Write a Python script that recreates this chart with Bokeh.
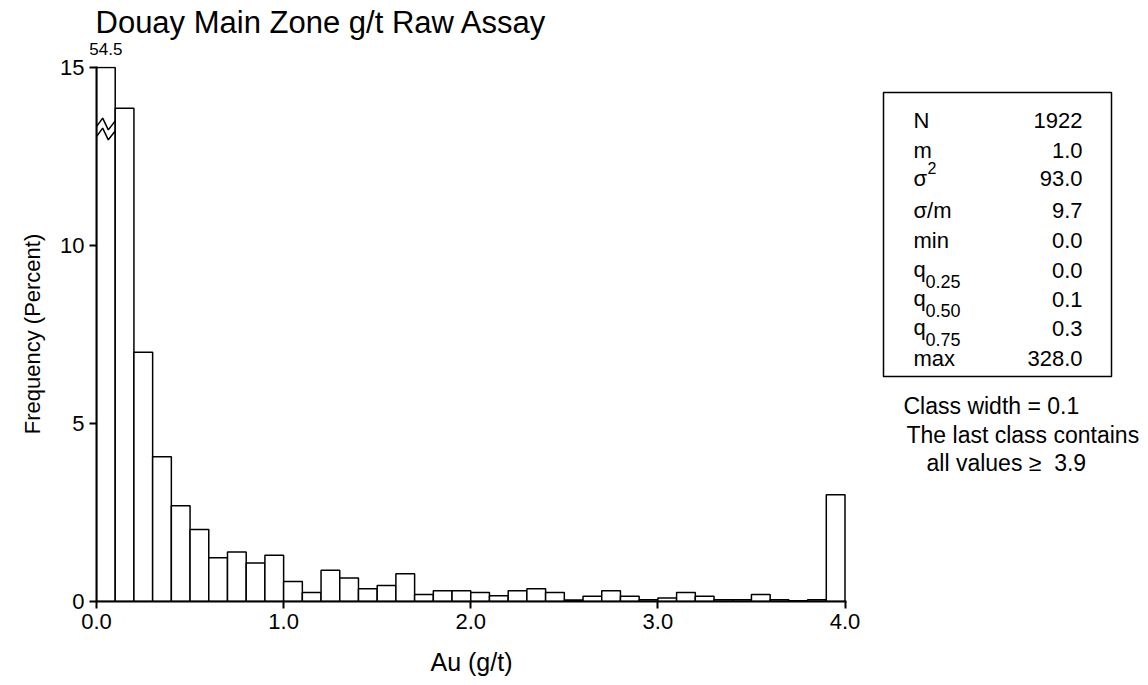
import numpy as np
from bokeh.plotting import figure
from bokeh.layouts import row
from bokeh.models import (Range1d, FixedTicker, PrintfTickFormatter, Title, ColumnDataSource,
                          LinearAxis)
from bokeh.core.properties import value
from bokeh.embed import file_html
from bokeh.resources import INLINE

# ---------------- data ----------------
title_text = "Douay Main Zone g/t Raw Assay"
x_label = "Au (g/t)"
y_label = "Frequency (Percent)"
bin_start = 0.0
bin_width = 0.1
freq = [54.5, 13.86, 7.0, 4.07, 2.69, 2.02, 1.23, 1.39, 1.08, 1.30,
        0.56, 0.25, 0.88, 0.66, 0.36, 0.45, 0.78, 0.20, 0.30, 0.30,
        0.25, 0.16, 0.30, 0.36, 0.25, 0.04, 0.15, 0.30, 0.15, 0.05,
        0.10, 0.25, 0.15, 0.05, 0.05, 0.20, 0.05, 0.02, 0.05, 3.0]
y_ticks = [0, 5, 10, 15]
x_ticks = [0.0, 1.0, 2.0, 3.0, 4.0]
y_max = 15
x_max = 4.0
stat_names = ["N", "m", "\u03c3", "\u03c3/m", "min", "q", "q", "q", "max"]
stat_sup = ["", "", "2", "", "", "", "", "", ""]
stat_sub = ["", "", "", "", "", "0.25", "0.50", "0.75", ""]
stat_values = ["1922", "1.0", "93.0", "9.7", "0.0", "0.0", "0.1", "0.3", "328.0"]
note_lines = ["Class width = 0.1", "The last class contains", "all values \u2265\u00a0 3.9"]

# ---------------- layout (pixels) ----------------
FONT_NAME = "Liberation Sans"
FONT = value(FONT_NAME)
H = 683
BL, BT, BR = 96, 66, 20
FW, FH = 750, 535
BB = H - BT - FH
W1 = BL + FW + BR
W2 = 1144 - W1

p = figure(width=W1, height=H, frame_width=FW, frame_height=FH,
           x_range=Range1d(0, x_max * 1.002), y_range=Range1d(0, y_max * 1.002),
           output_backend="svg", toolbar_location=None, title=None,
           min_border_left=BL, min_border_bottom=BB, min_border_top=BT, min_border_right=BR)
p.outline_line_color = None
p.grid.visible = False
p.background_fill_color = "white"
p.border_fill_color = "white"

# axes (bottom and left), styled before any extra axis is added
xb = p.below[0]
yl = p.left[0]
yl.ticker = FixedTicker(ticks=y_ticks)
xb.ticker = FixedTicker(ticks=x_ticks)
xb.formatter = PrintfTickFormatter(format="%.1f")
for ax in (xb, yl):
    ax.axis_line_width = 2
    ax.axis_line_color = "black"
    ax.major_tick_line_width = 2
    ax.major_tick_line_color = "black"
    ax.major_tick_in = 0
    ax.major_tick_out = 7
    ax.minor_tick_line_color = None
    ax.major_label_text_font = FONT_NAME
    ax.major_label_text_font_size = "22px"
    ax.major_label_text_color = "black"
    ax.major_label_standoff = 5
    ax.axis_label_text_font = FONT_NAME
    ax.axis_label_text_font_style = "normal"
    ax.axis_label_text_color = "black"
yl.axis_label = y_label
yl.axis_label_text_font_size = "22px"
yl.axis_label_standoff = 12
xb.axis_label = x_label
xb.axis_label_text_font_size = "25px"
xb.axis_label_standoff = 16

# histogram
edges = bin_start + bin_width * np.arange(len(freq) + 1)
shown = np.minimum(np.array(freq), y_max)
src = ColumnDataSource(dict(left=edges[:-1], right=edges[1:], top=shown))
p.quad(left="left", right="right", bottom=0, top="top", source=src,
       fill_color="white", line_color="black", line_width=1.5)

# axis break mark on clipped bar(s)
clipped = [i for i, f in enumerate(freq) if f > y_max]
xs, ys = [], []
for i in clipped:
    l, r = edges[i], edges[i + 1]
    fx = np.array([0.0, 0.33, 0.63, 1.0])
    off = np.array([0.0, 0.24, -0.09, 0.16])
    base = y_max - 1.66
    for shift in (0.0, -0.28):
        xs.append(list(l + fx * (r - l)))
        ys.append(list(base + shift + off))
p.multi_line(xs=xs, ys=ys, line_color="black", line_width=1.5)

# true value of the clipped bar, shown above it via an unlined top axis
centers = [float((edges[i] + edges[i + 1]) / 2) for i in clipped]
top_axis = LinearAxis(ticker=FixedTicker(ticks=centers),
                      major_label_overrides={c: f"{freq[i]:.1f}" for c, i in zip(centers, clipped)},
                      axis_line_color=None, major_tick_line_color=None,
                      minor_tick_line_color=None, major_tick_in=0, major_tick_out=0,
                      major_label_standoff=12, major_label_text_font=FONT_NAME,
                      major_label_text_font_size="17px", major_label_text_color="black")
p.add_layout(top_axis, "above")

# main title above that
p.add_layout(Title(text=title_text, align="left", offset=-1, standoff=0,
                   text_font=FONT_NAME, text_font_size="31px", text_font_style="normal",
                   text_color="black"), "above")

# ---------------- statistics panel (page-pixel coordinates) ----------------
q = figure(width=W2, height=H, frame_width=W2, frame_height=FH,
           x_range=Range1d(W1, W1 + W2), y_range=Range1d(BT + FH, BT),
           output_backend="svg", toolbar_location=None, title=None,
           x_axis_location=None, y_axis_location=None,
           min_border_left=0, min_border_right=0, min_border_top=BT, min_border_bottom=BB)
q.outline_line_color = None
q.grid.visible = False
q.background_fill_color = "white"
q.border_fill_color = "white"

q.quad(left=[883], right=[1111], top=[92], bottom=[376],
       fill_color=None, line_color="black", line_width=1.5)
row_base = [120, 150, 178, 210, 240, 269, 298, 327, 358]
val_base = [120, 150, 178, 210, 240, 270, 299, 328, 358]
q.text(x=[913] * len(stat_names), y=row_base, text=stat_names,
       text_font=FONT, text_font_size="22px", text_align="left", text_baseline="alphabetic",
       text_color="black")
q.text(x=[1082] * len(stat_values), y=val_base, text=stat_values,
       text_font=FONT, text_font_size="22px", text_align="right", text_baseline="alphabetic",
       text_color="black")
sub_idx = [i for i, s in enumerate(stat_sub) if s]
q.text(x=[925] * len(sub_idx), y=[row_base[i] + 12 for i in sub_idx],
       text=[stat_sub[i] for i in sub_idx], text_font=FONT, text_font_size="18px",
       text_align="left", text_baseline="alphabetic", text_color="black")
sup_idx = [i for i, s in enumerate(stat_sup) if s]
q.text(x=[927] * len(sup_idx), y=[row_base[i] - 11 for i in sup_idx],
       text=[stat_sup[i] for i in sup_idx], text_font=FONT, text_font_size="16px",
       text_align="left", text_baseline="alphabetic", text_color="black")

note_x = [903, 906, 926]
note_base = [405, 434, 462]
q.text(x=note_x, y=note_base, text=note_lines,
       text_font=FONT, text_font_size="23px", text_align="left", text_baseline="alphabetic",
       text_color="black")

layout = row(p, q)
open("out.html", "w").write(file_html(layout, INLINE))
